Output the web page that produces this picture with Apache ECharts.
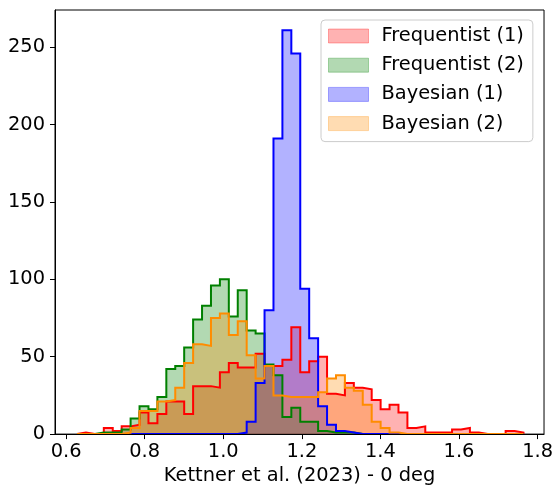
<!DOCTYPE html>
<html><head><meta charset="utf-8">
<script src="https://cdn.jsdelivr.net/npm/echarts@6/dist/echarts.min.js"></script>
<style>html,body{margin:0;padding:0;background:#fff}#c{width:556px;height:490px}</style>
</head><body><div id="c"></div>
<script>
// shared histogram bins (50 bins)
const binStart = 0.62778;
const binWidth = 0.022727;
const seriesNames = ['Frequentist (1)', 'Frequentist (2)', 'Bayesian (1)', 'Bayesian (2)'];
const frequentist1 = [1,0,0,4,2,5,6,14,7,13, 21,21,13,31,31,30,40,46,43,43, 52,44,44,48,69,40,47,50,26,25, 33,30,29,22,16,19,14,4,5,1, 1,1,3,4,1,0,0,0,2,1];
const frequentist2 = [0,0,1,1,1,3,10,18,16,24, 42,44,56,74,83,96,100,76,93,67, 65,45,38,11,17,8,8,2,1,1, 1,0,0,0,0,0,0,0,0,0, 0,0,0,0,0,0,0,0,0,0];
const bayesian1 = [0,0,0,0,0,0,0,0,0,0, 0,0,0,0,0,0,0,0,1,8, 33,80,191,261,246,94,62,18,6,2, 1,0,0,0,0,0,0,0,0,0, 0,0,0,0,0,0,0,0,0,0];
const bayesian2 = [0,0,0,0,0,1,4,15,15,21, 22,30,46,58,57,75,78,64,73,51, 36,44,25,24,24,24,24,27,36,38, 30,28,19,8,4,1,0,0,0,0, 0,0,0,0,0,0,0,0,0,0];
const xTickLabels = [0.6, 0.8, 1.0, 1.2, 1.4, 1.6, 1.8];
const yTickLabels = [0, 50, 100, 150, 200, 250];
const xTitle = 'Kettner et al. (2023) - 0 deg';

const allCounts = [frequentist1, frequentist2, bayesian1, bayesian2];
const lineColors = ['#ff0000', '#008000', '#0000ff', '#ff8c00'];
const fillColors = ['rgba(255,0,0,0.3)', 'rgba(0,128,0,0.3)', 'rgba(0,0,255,0.3)', 'rgba(255,140,0,0.3)'];

function stepData(counts) {
  const d = [[binStart, 0]];
  counts.forEach((c, i) => d.push([binStart + i * binWidth, c]));
  d.push([binStart + counts.length * binWidth, 0]);
  return d;
}

const FONT = 'DejaVu Sans';
const FS = 19.4;
const series = [];
allCounts.forEach((counts, i) => {
  series.push({
    name: seriesNames[i], type: 'line', step: 'end', data: stepData(counts),
    symbol: 'none', showSymbol: false, silent: true, z: 2,
    lineStyle: { width: 0, opacity: 0 },
    itemStyle: { color: fillColors[i] },
    areaStyle: { color: fillColors[i], opacity: 1 }
  });
});
allCounts.forEach((counts, i) => {
  series.push({
    name: seriesNames[i] + ' outline', type: 'line', step: 'end', data: stepData(counts),
    symbol: 'none', showSymbol: false, silent: true, z: 3,
    lineStyle: { width: 2, color: lineColors[i], join: 'miter' }
  });
});

const chart = echarts.init(document.getElementById('c'), null, { renderer: 'canvas' });
chart.setOption({
  animation: false,
  backgroundColor: '#fff',
  textStyle: { fontFamily: FONT },
  grid: { left: 55, right: 8, top: 10, bottom: 52, show: true, borderColor: '#000', borderWidth: 1, containLabel: false },
  xAxis: {
    type: 'value', min: 0.5717, max: 1.8164, z: 5,
    name: xTitle, nameLocation: 'middle', nameGap: 21,
    nameTextStyle: { fontSize: FS, color: '#000', fontFamily: FONT },
    axisLine: { show: true, lineStyle: { color: '#000', width: 1 } },
    axisTick: { show: true, length: 5, lineStyle: { color: '#000' }, customValues: xTickLabels },
    axisLabel: { fontSize: FS, color: '#000', margin: 8, fontFamily: FONT, customValues: xTickLabels,
      formatter: v => v.toFixed(1) },
    splitLine: { show: false }
  },
  yAxis: {
    type: 'value', min: 0, max: 274.05, z: 5,
    axisLine: { show: true, lineStyle: { color: '#000', width: 1 } },
    axisTick: { show: true, length: 5, lineStyle: { color: '#000' }, customValues: yTickLabels },
    axisLabel: { fontSize: FS, color: '#000', margin: 10, fontFamily: FONT, customValues: yTickLabels,
      formatter: v => String(Math.round(v)) },
    splitLine: { show: false }
  },
  legend: {
    orient: 'vertical', left: 321, top: 20,
    padding: [6, 9, 8, 7],
    itemWidth: 40, itemHeight: 14, itemGap: 9.2, icon: 'rect',
    borderColor: '#cccccc', borderWidth: 1, borderRadius: 4,
    backgroundColor: 'rgba(255,255,255,0.8)',
    textStyle: { fontSize: FS, color: '#000', fontFamily: FONT, lineHeight: 20, padding: [0, 0, 0, 8] },
    itemTextGap: 10,
    data: seriesNames.map((n, i) => ({
      name: n, icon: 'rect',
      itemStyle: { color: fillColors[i], borderColor: fillColors[i], borderWidth: 1 }
    }))
  },
  series: series
});
</script>
</body></html>
